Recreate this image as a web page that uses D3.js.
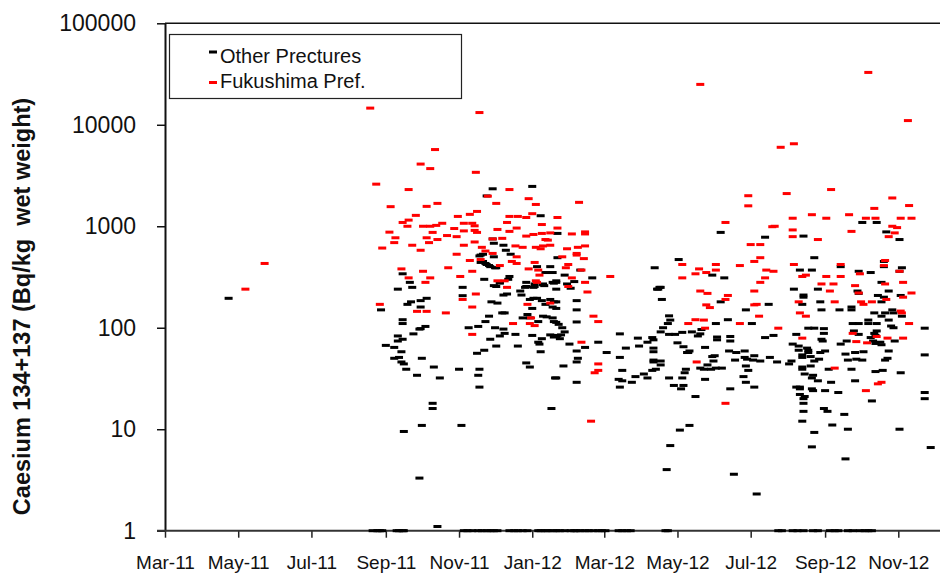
<!DOCTYPE html>
<html>
<head>
<meta charset="utf-8">
<script src="https://cdn.jsdelivr.net/npm/d3@7"></script>
<style>
  body { margin: 0; background: #fff; }
  svg { display: block; }
</style>
</head>
<body>
<div id="chart"></div>
<script>

// each sample: [days after 1 Mar 2011, Cs-134+137 in Bq/kg wet weight]
var series_names = ["Other Prectures", "Fukushima Pref."];

var other_pref = [
  [53,195],
  [273,2340],[306,2470],[268,1990],[313,1270],[273,750],[274,680],[282,650],[284,580],[288,530],[262,510],[265,530],[274,500],[263,440],[267,430],[275,390],[270,410],[310,400],[321,400],[323,350],[317,350],[198,340],[204,280],[206,250],[194,240],[266,300],[279,280],[286,300],[287,320],[301,280],[308,270],[315,270],[323,280],[248,250],
  [327,850],[327,490],[263,520],[265,450],[268,420],[271,400],[276,390],[333,330],[346,370],[356,310],[279,275],[276,255],[301,255],[308,255],[315,265],[324,275],[335,270],[341,285],[338,245],[326,280],
  [408,390],[428,470],[456,330],[466,310],[412,250],[410,240],[463,870],
  [274,260],[300,250],[307,250],[316,260],
  [248,207],[282,210],[285,215],[296,230],[297,210],[307,195],[310,195],[304,190],[180,150],[218,195],[213,185],[205,180],[202,170],[213,160],[272,180],[277,175],[283,140],[281,140],[306,155],[314,185],[317,170],[321,190],[324,180],[323,160],[270,130],[267,115],[302,135],[304,125],[298,125],[311,115],[315,130],[318,128],[323,125],[324,115],[326,113],[198,120],[198,110],[217,103],[213,98],[212,97],[253,100],[261,103],[275,100],[282,97],[283,88],[279,83],[271,77],[276,66],[207,87],[194,83],[194,74],[198,77],[191,64],[184,67],[197,58],[292,86],[294,66],[306,84],[311,72],[312,69],[313,58],[314,78],[321,85],[324,81],[327,84],[329,78],[266,60],[260,56],[191,50],[195,51],[197,46],[199,44],[201,39],[214,50],[210,34],[224,41],[229,32],[245,39],[262,39],[261,34],[262,26],[301,45],[304,41],[325,32],[223,18],[223,16],[214,10.9],[247,10.9],[199,9.5],[322,16],[212,3.3],[227,1.1],
  [326,290],[326,240],[343,185],[343,150],[343,114],[326,180],[326,155],[328,108],[331,100],[333,91],[330,85],[326,82],[361,72],[350,64],[343,59],[344,50],[343,46],[337,69],[332,42],[326,32],[343,29],[368,57],
  [379,87],[384,63],[379,51],[381,38],[378,31],[381,30],[379,26],[389,29],[392,33],[394,79],[395,66],[399,35],[402,72],[402,32],[406,80],[407,76],[407,63],[407,58],[407,48],[407,46],[413,47],[413,43],[409,39],[406,38],[411,240],[413,250],[414,190],[420,131],[421,119],[419,110],[415,100],[413,91],[420,86],[425,86],[431,90],[427,71],[432,65],[435,57],[437,59],[434,39],[433,36],[431,32],[432,27],[430,25],[424,27],[420,32],[421,6.9],[418,4],[429,9.8],[437,10.9],[442,21],
  [463,180],[484,150],[469,120],[459,110],[439,91],[444,83],[447,96],[446,87],[460,81],[460,76],[471,82],[471,74],[470,59],[476,57],[483,59],[475,48],[485,49],[484,42],[486,38],[490,48],[446,40],[449,39],[455,39],[459,40],[464,40],[457,47],[452,43],[456,52],[450,64],[458,53],[436,57],[450,31],[471,25],[474,3.6],[482,33],[484,29],[491,26],[493,2.3],
  [581,1090],[593,1090],[532,800],[500,780],[601,880],[612,740],[541,490],[529,370],[539,370],[563,400],[599,450],[599,400],[578,360],[588,350],[614,390],[612,360],[597,280],[524,240],[544,240],
  [532,210],[532,200],[546,180],[547,150],[531,170],[562,150],[572,160],[572,150],[577,230],[578,218],[594,208],[599,200],[597,180],[603,230],[613,208],[614,130],[606,150],[607,140],[591,140],[597,130],[633,99],[503,170],[489,110],
  [500,80],[507,84],[491,53],[483,51],[496,47],[504,51],[510,46],[520,44],[522,47],[528,60],[536,60],[541,99],[536,99],[549,98],[549,88],[547,77],[548,74],[526,86],[523,69],[528,66],[535,63],[536,57],[531,54],[531,51],[538,52],[546,57],[550,59],[545,49],[541,47],[538,42],[531,41],[531,39],[533,35],[539,32],[540,34],[553,39],[544,30],[555,29],[563,69],[567,55],[568,74],[569,48],[572,39],[574,93],[573,110],[578,110],[578,86],[575,57],[582,58],[576,49],[581,48],[586,119],[586,110],[588,80],[593,110],[593,93],[591,88],[592,84],[590,74],[592,70],[596,72],[597,68],[600,140],[603,119],[605,104],[607,100],[608,74],[603,59],[602,50],[600,48],[598,38],[592,37],[575,30],
  [529,26],[526,26],[529,25],[540,24],[539,25],[550,24],[561,23],[529,22],[533,21],[532,20],[532,18],[549,16],[552,15],[532,15],[531,12],[566,14],[556,11],[569,10],[541,9.3],[539,6.7],[567,5.1],[612,10],[589,19],[633,23],[633,20],[633,54],[613,36],[638,6.6]
];

// other prefectures, results plotted at 1 Bq/kg (days only)
var other_at_one = [173,177,179,181,193,195,198,199,249,252,256,261,264,268,271,274,277,287,291,294,298,302,311,313,317,319,323,326,329,333,338,341,343,346,350,353,357,361,364,367,378,381,385,388,417,419,511,514,523,527,532,540,544,554,558,561,569,573,579,583,586,589];

var fukushima_pref = [
  [67,240],[83,430],
  [171,14600],[262,13200],[225,5700],[213,4100],[221,3700],[259,3400],[176,2600],[203,2300],[287,2300],[269,1980],[303,1870],[276,1680],[309,1640],[188,1560],[218,1570],[227,1680],[260,1400],[254,1310],[209,1280],[244,1250],[287,1250],[294,1250],[306,1330],[327,1220],[301,1220],[203,1150],[198,1090],[285,1090],[231,1070],[249,1070],[256,1070],[202,1000],[215,1000],[221,1000],[226,1020],[258,1010],[314,1040],[241,950],[277,930],[293,960],[327,960],[187,875],[223,870],[249,900],[258,910],[260,870],[287,890],[314,850],[321,860],[307,830],[301,800],[281,760],[192,770],[218,770],[243,790],[235,810],[227,740],[317,740],[319,730],[273,750],[191,690],[220,690],[258,700],[249,650],[206,650],[292,640],[298,620],[309,620],[315,640],[321,650],[313,600],[181,610],[264,620],[213,580],[267,570],[273,540],[243,530],[293,500],[263,470],[254,460],[289,450],[293,430],[279,410],[308,440],[303,380],[311,370],[197,380],[215,360],[236,390],[256,360],[312,330],[203,310],[221,310],[246,320],[217,280],[277,290],[283,290],[285,250],[309,290],[310,280],
  [248,190],[259,215],[179,170],[210,145],[218,145],[234,140],[256,160],[302,170],[305,125],[304,110],[308,105],[290,110],[321,175],[256,86],
  [345,1720],[339,840],[350,880],[350,840],[335,600],[344,620],[350,640],[343,540],[343,520],[349,480],[331,500],[336,420],[347,370],[334,390],[339,310],[350,280],[336,255],[371,320],[431,420],[431,310],[442,340],[445,380],[451,350],[459,420],[459,370],[467,1090],[486,2000],[486,1590],[488,660],[479,410],[491,450],[446,25000],
  [352,225],[357,130],[361,115],[347,72],[361,44],[361,38],[358,36],[355,12],[436,110],[442,120],[449,119],[450,99],[446,230],[452,218],[469,208],[467,190],[451,168],[454,158],[491,168],[479,110],[443,46],[467,18],
  [586,32800],[619,11000],[513,6000],[524,6500],[555,2300],[518,2100],[606,1900],[591,1500],[620,1600],[523,1200],[539,1300],[551,1200],[570,1300],[584,1200],[592,1200],[613,1200],[622,1200],[508,1000],[506,990],[523,920],[523,790],[544,740],[572,890],[606,1000],[610,970],[608,860],[603,790],[496,660],[496,490],[524,420],[501,370],[507,360],[563,420],[599,410],[600,460],[579,340],[612,360],[531,320],[534,330],[551,320],[563,320],[500,310],[496,280],[547,270],[557,270],[575,260],[600,270],[615,280],
  [491,230],[554,230],[578,220],[622,220],[615,200],[601,190],[493,170],[528,180],[558,180],[580,180],[589,180],[582,170],[495,130],[529,140],[534,130],[613,146],[614,140],[511,99],[620,110],[531,79],[573,88],[576,73],[585,71],[593,82],[602,79],[615,79],[558,40],[584,24],[594,28],[597,29]
];

var y_ticks = [1, 10, 100, 1000, 10000, 100000];
var x_ticks = ["2011-03-01","2011-05-01","2011-07-01","2011-09-01","2011-11-01","2012-01-01",
               "2012-03-01","2012-05-01","2012-07-01","2012-09-01","2012-11-01"];

var black_col = "#000000";
var red_col = "#ff0000";

var W = 940, H = 573;
var plot = {left: 165, right: 940, top: 23.3, bottom: 530.7};

var svg = d3.select("#chart").append("svg")
  .attr("width", W)
  .attr("height", H);

var start = new Date(Date.UTC(2011, 2, 1));
var dayToDate = function(d){ return d3.utcDay.offset(start, d); };

var x = d3.scaleUtc()
  .domain([start, new Date(Date.UTC(2012, 10, 1))])
  .range([plot.left, 898.3]);

var y = d3.scaleLog()
  .domain([1, 100000])
  .range([plot.bottom, plot.top]);

// top border
svg.append("line")
  .attr("x1", plot.left).attr("x2", plot.right)
  .attr("y1", plot.top).attr("y2", plot.top)
  .attr("stroke", "#111").attr("stroke-width", 1.5);

// y axis
var yAxis = svg.append("g")
  .attr("transform", "translate(" + plot.left + ",0)")
  .call(d3.axisLeft(y).tickValues(y_ticks).tickFormat(d3.format("d"))
        .tickSize(8).tickSizeOuter(0).tickPadding(21));
yAxis.select(".domain").attr("stroke", "#111").attr("stroke-width", 2);
yAxis.selectAll(".tick line").attr("stroke", "#111").attr("stroke-width", 1.5);
yAxis.selectAll(".tick text")
  .attr("fill", "#111")
  .style("font-family", "'Liberation Sans', Arial, sans-serif")
  .style("font-size", "23px");

// x axis
var xAxis = svg.append("g")
  .attr("transform", "translate(0," + plot.bottom + ")")
  .call(d3.axisBottom(x).tickValues(x_ticks.map(function(s){ return new Date(s + "T00:00:00Z"); }))
        .tickFormat(d3.utcFormat("%b-%y")).tickSize(7).tickSizeOuter(0).tickPadding(18));
xAxis.select(".domain").remove();
xAxis.selectAll(".tick line").attr("stroke", "#222").attr("stroke-width", 1.5);
xAxis.selectAll(".tick text")
  .attr("fill", "#111")
  .style("font-family", "'Liberation Sans', Arial, sans-serif")
  .style("font-size", "19px");
svg.append("line")
  .attr("x1", plot.left - 8).attr("x2", plot.right)
  .attr("y1", plot.bottom).attr("y2", plot.bottom)
  .attr("stroke", "#333").attr("stroke-width", 2);

// y axis title
svg.append("text")
  .attr("transform", "translate(30," + 306.5 + ") rotate(-90)")
  .attr("text-anchor", "middle")
  .style("font-family", "'Liberation Sans', Arial, sans-serif")
  .style("font-weight", "bold")
  .style("font-size", "23.5px")
  .style("white-space", "pre")
  .attr("fill", "#111")
  .text("Caesium 134+137 (Bq/kg  wet weight)");

// dash markers
var drawDashes = function(data, col){
  svg.append("g")
    .selectAll("rect")
    .data(data)
    .enter()
    .append("rect")
      .attr("x", function(d){ return x(dayToDate(d[0])) - 4; })
      .attr("y", function(d){ return y(d[1]) - 1.5; })
      .attr("width", 8)
      .attr("height", 3)
      .attr("fill", col);
};

drawDashes(other_pref.concat(other_at_one.map(function(d){ return [d, 1]; })), black_col);
drawDashes(fukushima_pref, red_col);

// legend
var legend = svg.append("g");
legend.append("rect")
  .attr("x", 169.5).attr("y", 34.5)
  .attr("width", 292).attr("height", 64)
  .attr("fill", "#fff").attr("stroke", "#222").attr("stroke-width", 1.2);

var leg_cols = [black_col, red_col];
var leg_y = [62.7, 88.3];
var leg_mark_y = [52, 82.5];
series_names.forEach(function(name, i){
  legend.append("rect")
    .attr("x", 209).attr("y", leg_mark_y[i] - 1.5)
    .attr("width", 8).attr("height", 3)
    .attr("fill", leg_cols[i]);
  legend.append("text")
    .attr("x", 220).attr("y", leg_y[i])
    .style("font-family", "'Liberation Sans', Arial, sans-serif")
    .style("font-size", "20px")
    .attr("fill", "#111")
    .text(name);
});

</script>
</body>
</html>
